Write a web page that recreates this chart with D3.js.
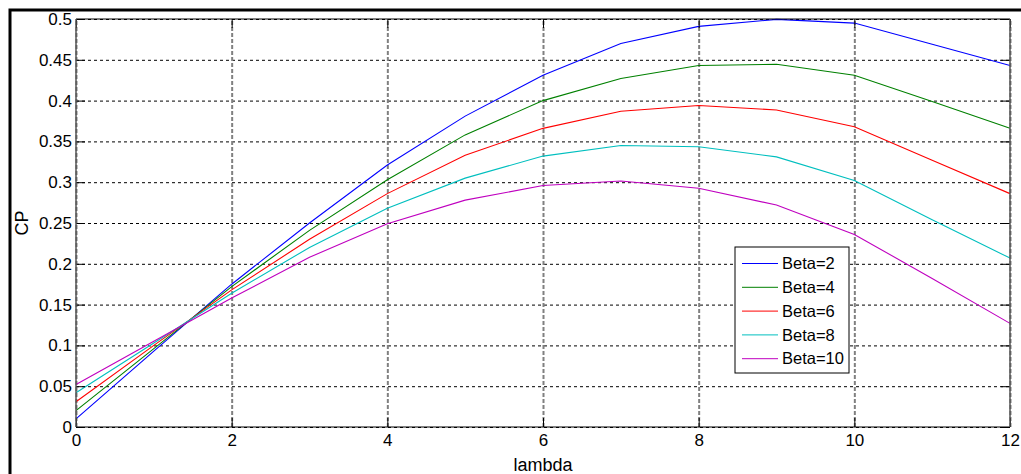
<!DOCTYPE html>
<html>
<head>
<meta charset="utf-8">
<script src="https://cdn.jsdelivr.net/npm/d3@7"></script>
<style>
    body { margin: 0; background: #fff; }
    svg text { font-family: Arial, "Liberation Sans", sans-serif; fill: #000; }
    .grid line { stroke-dasharray: 3,3; }
    .grid path { display: none; }
</style>
</head>
<body>
<svg id="chart" width="1021" height="474"></svg>
<script>
// tip speed ratio, one point per integer
var lambda = [0, 1, 2, 3, 4, 5, 6, 7, 8, 9, 10, 11, 12];

var beta2  = [0.010, 0.093, 0.175, 0.250, 0.321, 0.381, 0.431, 0.470, 0.491, 0.4995, 0.495, 0.469, 0.443];
var beta4  = [0.020, 0.096, 0.172, 0.241, 0.303, 0.358, 0.400, 0.427, 0.443, 0.4445, 0.431, 0.399, 0.366];
var beta6  = [0.031, 0.100, 0.168, 0.230, 0.286, 0.333, 0.366, 0.387, 0.394, 0.3885, 0.368, 0.327, 0.286];
var beta8  = [0.042, 0.103, 0.164, 0.220, 0.268, 0.305, 0.332, 0.345, 0.3435, 0.331, 0.302, 0.254, 0.207];
var beta10 = [0.052, 0.105, 0.158, 0.208, 0.249, 0.278, 0.296, 0.3015, 0.2925, 0.272, 0.236, 0.182, 0.127];

var seriesNames = ['Beta=2', 'Beta=4', 'Beta=6', 'Beta=8', 'Beta=10'];
var seriesValues = [beta2, beta4, beta6, beta8, beta10];
var colors = ['#0000ff', '#008000', '#ff0000', '#00bfbf', '#bf00bf'];

var xTicks = [0, 2, 4, 6, 8, 10, 12];
var yTicks = [0, 0.05, 0.1, 0.15, 0.2, 0.25, 0.3, 0.35, 0.4, 0.45, 0.5];

var svg = d3.select('svg#chart');

// outer figure frame, runs off the right and bottom edges
svg.append('rect')
    .attr('x', 10).attr('y', 10)
    .attr('width', 1030).attr('height', 500)
    .attr('fill', 'none')
    .attr('stroke', '#000')
    .attr('stroke-width', 3);

var margin = {left: 76, right: 1010, top: 19, bottom: 427};
var width = margin.right - margin.left, height = margin.bottom - margin.top;

var x = d3.scaleLinear().domain([0, 12]).range([0, width]);
var y = d3.scaleLinear().domain([0, 0.5]).range([height, 0]);

var g = svg.append('g').attr('transform', 'translate(' + margin.left + ',' + margin.top + ')');

// grid
g.append('g')
    .attr('class', 'grid')
    .call(d3.axisLeft(y).tickValues(yTicks).tickSize(-width).tickFormat(''))
    .selectAll('line')
    .attr('stroke', '#000')
    .attr('stroke-width', 1);

g.append('g')
    .attr('class', 'grid')
    .attr('transform', 'translate(0,' + height + ')')
    .call(d3.axisBottom(x).tickValues(xTicks).tickSize(-height).tickFormat(''))
    .selectAll('line')
    .attr('stroke', '#808080')
    .attr('stroke-width', 2)
    .style('stroke-dasharray', '4,2');

// curves
var line = d3.line()
    .x(function(d, i) { return x(lambda[i]); })
    .y(function(d) { return y(d); });

g.selectAll('path.curve')
    .data(seriesValues)
    .enter()
    .append('path')
    .attr('class', 'curve')
    .attr('fill', 'none')
    .attr('stroke', function(d, i) { return colors[i]; })
    .attr('stroke-width', 1.1)
    .attr('d', line);

// axes with inside ticks
var fmt = function(d) { return String(+d.toFixed(2)); };

var yAxis = g.append('g')
    .call(d3.axisLeft(y).tickValues(yTicks).tickSizeInner(-9).tickSizeOuter(0).tickPadding(4).tickFormat(fmt));
var yAxisR = g.append('g')
    .attr('transform', 'translate(' + width + ',0)')
    .call(d3.axisRight(y).tickValues(yTicks).tickSizeInner(-9).tickSizeOuter(0).tickFormat(''));
var xAxis = g.append('g')
    .attr('transform', 'translate(0,' + height + ')')
    .call(d3.axisBottom(x).tickValues(xTicks).tickSizeInner(-9).tickSizeOuter(0).tickPadding(7).tickFormat(fmt));
var xAxisT = g.append('g')
    .call(d3.axisTop(x).tickValues(xTicks).tickSizeInner(-9).tickSizeOuter(0).tickFormat(''));

[yAxis, yAxisR, xAxis, xAxisT].forEach(function(a) {
    a.selectAll('path').remove();
    a.selectAll('line').attr('stroke', '#000');
    a.selectAll('text').style('font-size', '17px').attr('fill', '#000');
    a.attr('font-family', null).attr('font-size', null);
});

// axes box
g.append('line').attr('x1', 0).attr('x2', width).attr('y1', 0).attr('y2', 0).attr('stroke', '#000');
g.append('line').attr('x1', 0).attr('x2', width).attr('y1', height).attr('y2', height).attr('stroke', '#000');
g.append('line').attr('x1', 0).attr('x2', 0).attr('y1', 0).attr('y2', height).attr('stroke', '#555').attr('stroke-width', 1.5);
g.append('line').attr('x1', width).attr('x2', width).attr('y1', 0).attr('y2', height).attr('stroke', '#555').attr('stroke-width', 1.5);

// axis labels
svg.append('text')
    .attr('x', margin.left + width / 2)
    .attr('y', 471)
    .attr('text-anchor', 'middle')
    .style('font-size', '18px')
    .text('lambda');

svg.append('text')
    .attr('transform', 'translate(28,' + (margin.top + height / 2) + ') rotate(-90)')
    .attr('text-anchor', 'middle')
    .style('font-size', '18px')
    .text('CP');

// legend
var legend = svg.append('g').attr('transform', 'translate(735,247)');
legend.append('rect')
    .attr('width', 114).attr('height', 126)
    .attr('fill', '#fff')
    .attr('stroke', '#000');

var item = legend.selectAll('g.item')
    .data(seriesNames)
    .enter()
    .append('g')
    .attr('class', 'item')
    .attr('transform', function(d, i) { return 'translate(0,' + (16.5 + i * 23.8) + ')'; });

item.append('line')
    .attr('x1', 7).attr('x2', 43)
    .attr('stroke', function(d, i) { return colors[i]; });

item.append('text')
    .attr('x', 47)
    .attr('dy', '0.35em')
    .style('font-size', '16.5px')
    .text(function(d) { return d; });
</script>
</body>
</html>
